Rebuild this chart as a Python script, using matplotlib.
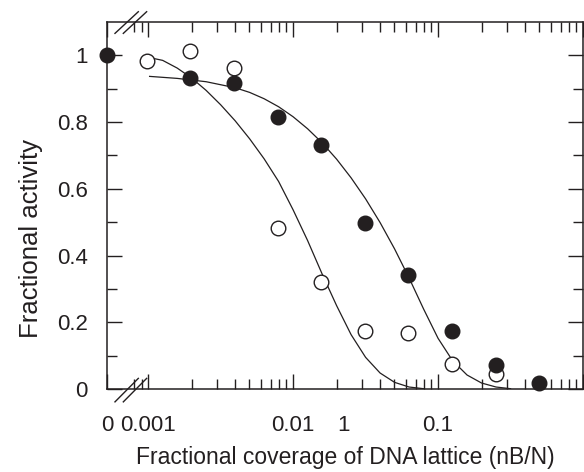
import numpy as np
import matplotlib
matplotlib.use("Agg")
import matplotlib.pyplot as plt
from matplotlib.ticker import FixedLocator, NullFormatter

plt.rcParams['font.family'] = ['Liberation Sans', 'DejaVu Sans']
ink = '#231f20'

# position used for the "0" coverage on the broken log axis
x_zero = 5.2e-4

# open circles
open_x = [1/1024, 1/512, 1/256, 1/128, 1/64, 1/32, 1/16, 1/8, 1/4]
open_y = [0.982, 1.012, 0.961, 0.483, 0.321, 0.174, 0.169, 0.074, 0.045]

# filled circles (first one is at zero coverage)
fill_x = [x_zero, 1/512, 1/256, 1/128, 1/64, 1/32, 1/16, 1/8, 1/4, 1/2]
fill_y = [1.0, 0.932, 0.916, 0.815, 0.731, 0.498, 0.343, 0.174, 0.072, 0.017]

# fitted curves (log10 of coverage, activity)
fitA_logx = [-3.01, -2.9, -2.8, -2.7, -2.6, -2.5, -2.4, -2.3, -2.2, -2.1,
             -2.0, -1.9, -1.8, -1.7, -1.6, -1.5, -1.4, -1.3, -1.2, -1.1]
fitA_y = [0.995, 0.985, 0.962, 0.932, 0.895, 0.852, 0.804, 0.750, 0.690,
          0.622, 0.537, 0.445, 0.345, 0.250, 0.163, 0.095, 0.048, 0.020,
          0.006, 0.001]

fitB_logx = [-2.99, -2.8, -2.6, -2.4, -2.3, -2.2, -2.1, -2.0, -1.9, -1.8,
             -1.7, -1.6, -1.5, -1.4, -1.3, -1.2, -1.1, -1.0, -0.9, -0.8,
             -0.7, -0.6, -0.5]
fitB_y = [0.937, 0.931, 0.921, 0.903, 0.889, 0.870, 0.846, 0.816, 0.780,
          0.738, 0.689, 0.633, 0.570, 0.499, 0.420, 0.333, 0.240, 0.152,
          0.085, 0.042, 0.018, 0.006, 0.001]

xtick_vals = [x_zero, 0.001, 0.01, 0.1]
xtick_labels = ['0', '0.001', '0.01', '0.1']
ytick_vals = [0, 0.2, 0.4, 0.6, 0.8, 1.0]
ytick_labels = ['0', '0.2', '0.4', '0.6', '0.8', '1']

fig = plt.figure(figsize=(5.84, 4.72), dpi=100)
ax = fig.add_axes([0.1832, 0.1758, 0.8151, 0.7776])

ax.plot(10**np.array(fitA_logx), fitA_y, color=ink, lw=0.9)
ax.plot(10**np.array(fitB_logx), fitB_y, color=ink, lw=0.9)
ax.plot(open_x, open_y, 'o', ms=10.5, mfc='white', mec=ink, mew=1.0,
        clip_on=False, zorder=3)
ax.plot(fill_x, fill_y, 'o', ms=10.5, mfc=ink, mec=ink, clip_on=False,
        zorder=4)

ax.set_xscale('log')
ax.set_xlim(x_zero, 1)
ax.set_ylim(0, 1.1)

minor = [m * 10.0**e for e in range(-4, 0) for m in range(2, 10)
         if m * 10.0**e >= 7.9e-4]
ax.xaxis.set_major_locator(FixedLocator(xtick_vals + [1.0]))
ax.set_xticklabels(xtick_labels + [''])
ax.xaxis.set_minor_locator(FixedLocator(minor))
ax.xaxis.set_minor_formatter(NullFormatter())
ax.set_yticks(ytick_vals)
ax.set_yticklabels(ytick_labels)
ax.set_yticks(np.arange(0.1, 1.1, 0.2), minor=True)

ax.tick_params(which='both', direction='in', top=True, right=True,
               colors=ink, width=1.0, labelsize=16)
ax.tick_params(which='major', length=10.5)
ax.tick_params(which='minor', length=7)
ax.tick_params(axis='x', pad=19)
ax.tick_params(axis='y', pad=14)
for s in ax.spines.values():
    s.set_linewidth(1.1)
    s.set_color(ink)

# stray "1" label that sits between 0.01 and 0.1 in the original
ax.text(0.0224, -0.07, '1', transform=ax.get_xaxis_transform(),
        ha='center', va='top', fontsize=16, color=ink)

# axis break marks
for y0, y1 in [(-0.035, 0.029), (0.969, 1.028)]:
    for dx in (0.0, 0.0175):
        ax.plot([0.0168 + dx, 0.0658 + dx], [y0, y1], color=ink, lw=1.0,
                transform=ax.transAxes, clip_on=False)

ax.set_xlabel('Fractional coverage of DNA lattice (nB/N)', fontsize=16.5,
              color=ink, labelpad=7)
ax.set_ylabel('Fractional activity', fontsize=18.5, color=ink)
ax.yaxis.set_label_coords(-0.135, 0.41)

fig.savefig('out.png', dpi=100)
